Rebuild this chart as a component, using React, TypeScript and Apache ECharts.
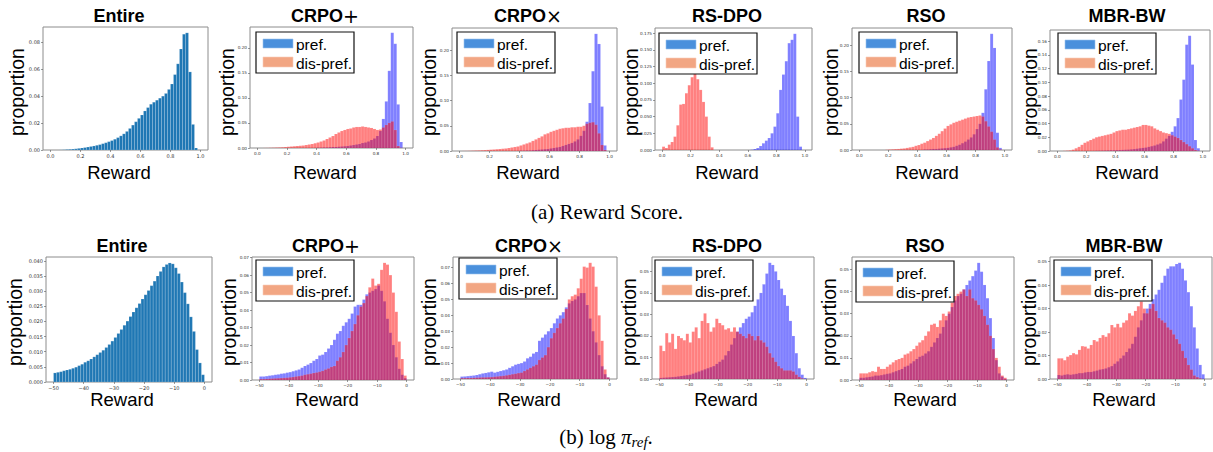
import React, { useEffect, useRef } from "react";
import * as echarts from "echarts";

// ---------- categories / ticks ----------
const TITLES = ["Entire", "CRPO+", "CRPO×", "RS-DPO", "RSO", "MBR-BW"];
const LEGEND_LABELS = ["pref.", "dis-pref."];
const REWARD_X_TICKS = [0, 0.2, 0.4, 0.6, 0.8, 1.0];
const LOGREF_X_TICKS = [-50, -40, -30, -20, -10, 0];
const REWARD_Y_TICKS = [
  [0, 0.02, 0.04, 0.06, 0.08],
  [0, 0.05, 0.1, 0.15, 0.2],
  [0, 0.05, 0.1, 0.15, 0.2],
  [0, 0.025, 0.05, 0.075, 0.1, 0.125, 0.15, 0.175],
  [0, 0.05, 0.1, 0.15, 0.2],
  [0, 0.02, 0.04, 0.06, 0.08, 0.1, 0.12, 0.14, 0.16],
];
const REWARD_Y_DEC = [2, 2, 2, 3, 2, 2];
const LOGREF_Y_TICKS = [
  [0, 0.005, 0.01, 0.015, 0.02, 0.025, 0.03, 0.035, 0.04],
  [0, 0.01, 0.02, 0.03, 0.04, 0.05, 0.06, 0.07],
  [0, 0.01, 0.02, 0.03, 0.04, 0.05, 0.06, 0.07],
  [0, 0.01, 0.02, 0.03, 0.04, 0.05],
  [0, 0.01, 0.02, 0.03, 0.04, 0.05],
  [0, 0.01, 0.02, 0.03, 0.04, 0.05],
];
const LOGREF_Y_DEC = [3, 2, 2, 2, 2, 2];

// bin starts (50 bins each)
const REWARD_BINS = [
  0, 0.02, 0.04, 0.06, 0.08, 0.1, 0.12, 0.14, 0.16, 0.18,
  0.2, 0.22, 0.24, 0.26, 0.28, 0.3, 0.32, 0.34, 0.36, 0.38,
  0.4, 0.42, 0.44, 0.46, 0.48, 0.5, 0.52, 0.54, 0.56, 0.58,
  0.6, 0.62, 0.64, 0.66, 0.68, 0.7, 0.72, 0.74, 0.76, 0.78,
  0.8, 0.82, 0.84, 0.86, 0.88, 0.9, 0.92, 0.94, 0.96, 0.98,
];
const REWARD_BIN_W = 0.02;
const LOGREF_BINS = [
  -50, -49, -48, -47, -46, -45, -44, -43, -42, -41,
  -40, -39, -38, -37, -36, -35, -34, -33, -32, -31,
  -30, -29, -28, -27, -26, -25, -24, -23, -22, -21,
  -20, -19, -18, -17, -16, -15, -14, -13, -12, -11,
  -10, -9, -8, -7, -6, -5, -4, -3, -2, -1,
];
const LOGREF_BIN_W = 1;

// ---------- (a) Reward score ----------
const rewardEntire = [
  0, 0, 0, 0.0001, 0.0002, 0.0004, 0.0005, 0.0007, 0.0009, 0.0012,
  0.0015, 0.0018, 0.0022, 0.0026, 0.003, 0.0035, 0.004, 0.0047, 0.0054, 0.0062,
  0.007, 0.008, 0.0092, 0.0105, 0.012, 0.0138, 0.016, 0.0185, 0.021, 0.0235,
  0.026, 0.029, 0.0315, 0.034, 0.0355, 0.037, 0.0385, 0.04, 0.042, 0.045,
  0.049, 0.056, 0.064, 0.075, 0.086, 0.087, 0.058, 0.019, 0.0015, 0,
];
const rewardCrpoPlusPref = [
  0, 0, 0, 0, 0, 0, 0, 0, 0, 0,
  0, 0, 0, 0, 0, 0, 0, 0, 0, 0,
  0.0005, 0.0005, 0.001, 0.001, 0.0015, 0.002, 0.002, 0.0025, 0.003, 0.0035,
  0.004, 0.005, 0.006, 0.007, 0.008, 0.01, 0.011, 0.013, 0.016, 0.019,
  0.024, 0.034, 0.058, 0.093, 0.154, 0.23, 0.208, 0.087, 0.012, 0,
];
const rewardCrpoPlusDis = [
  0, 0, 0.0002, 0.0003, 0.0005, 0.0007, 0.001, 0.0012, 0.0015, 0.002,
  0.0025, 0.003, 0.0035, 0.004, 0.0045, 0.005, 0.006, 0.007, 0.008, 0.0095,
  0.011, 0.013, 0.015, 0.018, 0.021, 0.024, 0.028, 0.031, 0.034, 0.036,
  0.038, 0.039, 0.041, 0.042, 0.042, 0.043, 0.042, 0.041, 0.04, 0.038,
  0.036, 0.037, 0.041, 0.046, 0.05, 0.053, 0.036, 0.004, 0.0005, 0,
];
const rewardCrpoTimesPref = [
  0, 0, 0, 0, 0, 0, 0, 0, 0, 0,
  0, 0, 0, 0, 0, 0, 0, 0, 0, 0,
  0.0005, 0.0005, 0.001, 0.001, 0.0015, 0.002, 0.0025, 0.003, 0.0035, 0.004,
  0.005, 0.006, 0.007, 0.008, 0.01, 0.012, 0.014, 0.016, 0.019, 0.023,
  0.03, 0.04, 0.058, 0.095, 0.158, 0.232, 0.212, 0.088, 0.011, 0,
];
const rewardCrpoTimesDis = [
  0, 0.0002, 0.0003, 0.0005, 0.0007, 0.001, 0.0012, 0.0015, 0.0018, 0.0022,
  0.0026, 0.003, 0.0035, 0.004, 0.0045, 0.005, 0.006, 0.007, 0.008, 0.009,
  0.011, 0.013, 0.015, 0.017, 0.02, 0.023, 0.026, 0.029, 0.033, 0.035,
  0.038, 0.04, 0.042, 0.044, 0.045, 0.046, 0.046, 0.047, 0.047, 0.048,
  0.048, 0.05, 0.054, 0.056, 0.057, 0.052, 0.035, 0.012, 0.002, 0,
];
const rewardRsdpoPref = [
  0, 0, 0, 0, 0, 0, 0, 0, 0, 0,
  0, 0, 0, 0, 0, 0, 0, 0, 0, 0,
  0, 0, 0, 0, 0, 0, 0, 0, 0, 0,
  0, 0.0005, 0.0015, 0.003, 0.006, 0.01, 0.014, 0.018, 0.025, 0.035,
  0.055, 0.09, 0.113, 0.133, 0.16, 0.165, 0.174, 0.05, 0.005, 0,
];
const rewardRsdpoDis = [
  0.005, 0.003, 0.008, 0.012, 0.02, 0.037, 0.068, 0.069, 0.085, 0.097,
  0.109, 0.114, 0.106, 0.09, 0.072, 0.05, 0.02, 0.004, 0, 0,
  0, 0, 0, 0, 0, 0, 0, 0, 0, 0,
  0, 0, 0, 0, 0, 0, 0, 0, 0, 0,
  0, 0, 0, 0, 0, 0, 0, 0, 0, 0,
];
const rewardRsoPref = [
  0, 0, 0, 0, 0, 0, 0, 0, 0, 0,
  0, 0, 0, 0, 0, 0, 0, 0, 0, 0,
  0, 0, 0.001, 0.001, 0.0015, 0.002, 0.002, 0.0025, 0.003, 0.0035,
  0.004, 0.005, 0.006, 0.008, 0.01, 0.013, 0.016, 0.02, 0.024, 0.03,
  0.04, 0.05, 0.071, 0.116, 0.17, 0.222, 0.195, 0.033, 0.004, 0,
];
const rewardRsoDis = [
  0, 0, 0, 0, 0, 0, 0, 0, 0, 0.0005,
  0.001, 0.0013, 0.0017, 0.002, 0.0025, 0.003, 0.004, 0.005, 0.006, 0.008,
  0.0095, 0.012, 0.014, 0.017, 0.02, 0.023, 0.027, 0.031, 0.036, 0.041,
  0.046, 0.049, 0.052, 0.054, 0.056, 0.058, 0.06, 0.062, 0.063, 0.064,
  0.065, 0.066, 0.064, 0.055, 0.045, 0.035, 0.02, 0.005, 0.001, 0,
];
const rewardMbrPref = [
  0, 0, 0, 0, 0, 0, 0, 0, 0, 0,
  0, 0, 0, 0.0003, 0.0004, 0.0005, 0.0006, 0.0008, 0.001, 0.001,
  0.0012, 0.0014, 0.0016, 0.0018, 0.002, 0.0024, 0.0028, 0.0033, 0.004, 0.0045,
  0.005, 0.006, 0.007, 0.008, 0.0095, 0.011, 0.014, 0.018, 0.022, 0.028,
  0.036, 0.048, 0.075, 0.104, 0.155, 0.168, 0.126, 0.016, 0.004, 0,
];
const rewardMbrDis = [
  0, 0, 0.0003, 0.0006, 0.001, 0.002, 0.004, 0.006, 0.009, 0.012,
  0.014, 0.016, 0.018, 0.02, 0.021, 0.022, 0.023, 0.024, 0.025, 0.027,
  0.029, 0.03, 0.031, 0.031, 0.032, 0.033, 0.034, 0.035, 0.036, 0.038,
  0.038, 0.037, 0.036, 0.033, 0.031, 0.029, 0.027, 0.026, 0.025, 0.023,
  0.021, 0.019, 0.016, 0.013, 0.01, 0.007, 0.004, 0.0015, 0.0005, 0,
];

// ---------- (b) log pi_ref ----------
const logrefEntire = [
  0.003, 0.0032, 0.0034, 0.0037, 0.004, 0.0042, 0.0045, 0.0049, 0.0054, 0.0059,
  0.0065, 0.007, 0.0076, 0.0083, 0.009, 0.0097, 0.0105, 0.0114, 0.0124, 0.0135,
  0.0147, 0.016, 0.0173, 0.0187, 0.0201, 0.0216, 0.0231, 0.0245, 0.0259, 0.0274,
  0.0288, 0.0302, 0.0318, 0.0333, 0.035, 0.0365, 0.038, 0.0388, 0.0393, 0.039,
  0.0377, 0.0358, 0.033, 0.0295, 0.0258, 0.0215, 0.0167, 0.0107, 0.0063, 0.0024,
];
const logrefCrpoPlusPref = [
  0.002, 0.002, 0.0022, 0.0025, 0.0027, 0.003, 0.0032, 0.0036, 0.0038, 0.0042,
  0.0045, 0.005, 0.0055, 0.006, 0.007, 0.008, 0.0088, 0.0097, 0.011, 0.012,
  0.014, 0.0145, 0.016, 0.018, 0.02, 0.023, 0.0265, 0.028, 0.031, 0.033,
  0.035, 0.038, 0.042, 0.043, 0.043, 0.046, 0.049, 0.05, 0.051, 0.052,
  0.054, 0.051, 0.045, 0.035, 0.027, 0.02, 0.013, 0.0064, 0.003, 0.001,
];
const logrefCrpoPlusDis = [
  0.0005, 0.0005, 0.0006, 0.0007, 0.0008, 0.0009, 0.001, 0.0011, 0.0012, 0.0013,
  0.0015, 0.0017, 0.002, 0.0022, 0.0025, 0.003, 0.0033, 0.0036, 0.004, 0.0043,
  0.0047, 0.0052, 0.006, 0.0066, 0.0075, 0.008, 0.011, 0.013, 0.016, 0.02,
  0.024, 0.028, 0.032, 0.037, 0.042, 0.044, 0.048, 0.053, 0.058, 0.054,
  0.055, 0.063, 0.067, 0.066, 0.06, 0.05, 0.039, 0.022, 0.012, 0.0025,
];
const logrefCrpoTimesPref = [
  0.0015, 0.0016, 0.0018, 0.002, 0.0022, 0.0025, 0.003, 0.0035, 0.0038, 0.0042,
  0.0046, 0.004, 0.0045, 0.005, 0.0055, 0.006, 0.007, 0.008, 0.009, 0.0095,
  0.01, 0.011, 0.013, 0.014, 0.016, 0.017, 0.024, 0.026, 0.028, 0.03,
  0.032, 0.035, 0.038, 0.04, 0.042, 0.045, 0.0475, 0.049, 0.05, 0.052,
  0.054, 0.054, 0.0465, 0.038, 0.03, 0.023, 0.015, 0.008, 0.003, 0.001,
];
const logrefCrpoTimesDis = [
  0.0005, 0.0005, 0.0006, 0.0006, 0.0007, 0.0008, 0.0009, 0.001, 0.001, 0.0011,
  0.0012, 0.0014, 0.0016, 0.0018, 0.002, 0.0023, 0.0026, 0.003, 0.0033, 0.0037,
  0.004, 0.005, 0.006, 0.007, 0.008, 0.009, 0.012, 0.0135, 0.015, 0.02,
  0.0256, 0.029, 0.032, 0.035, 0.038, 0.044, 0.05, 0.052, 0.053, 0.057,
  0.063, 0.0706, 0.07, 0.073, 0.0706, 0.058, 0.04, 0.024, 0.006, 0.001,
];
const logrefRsdpoPref = [
  0.0005, 0.0006, 0.0007, 0.0008, 0.0009, 0.001, 0.0012, 0.0014, 0.0016, 0.0018,
  0.002, 0.0025, 0.003, 0.0035, 0.004, 0.0045, 0.005, 0.0055, 0.006, 0.007,
  0.008, 0.009, 0.011, 0.013, 0.016, 0.019, 0.022, 0.024, 0.026, 0.028,
  0.029, 0.031, 0.034, 0.037, 0.04, 0.044, 0.049, 0.054, 0.053, 0.05,
  0.046, 0.042, 0.039, 0.034, 0.027, 0.02, 0.012, 0.005, 0.002, 0.0005,
];
const logrefRsdpoDis = [
  0.0155, 0.013, 0.0213, 0.017, 0.021, 0.014, 0.02, 0.019, 0.018, 0.021,
  0.017, 0.022, 0.024, 0.019, 0.027, 0.0305, 0.026, 0.022, 0.024, 0.028,
  0.026, 0.025, 0.023, 0.0236, 0.022, 0.024, 0.022, 0.021, 0.02, 0.019,
  0.021, 0.02, 0.018, 0.02, 0.018, 0.017, 0.015, 0.012, 0.01, 0.008,
  0.006, 0.005, 0.004, 0.004, 0.004, 0.0035, 0.002, 0.001, 0.0003, 0,
];
const logrefRsoPref = [
  0.001, 0.001, 0.0012, 0.0014, 0.0016, 0.002, 0.002, 0.0022, 0.0025, 0.0028,
  0.003, 0.0035, 0.004, 0.0045, 0.005, 0.006, 0.0065, 0.0075, 0.0085, 0.0095,
  0.0105, 0.011, 0.012, 0.013, 0.015, 0.017, 0.019, 0.021, 0.024, 0.027,
  0.03, 0.033, 0.036, 0.038, 0.039, 0.041, 0.043, 0.045, 0.047, 0.0495,
  0.053, 0.049, 0.043, 0.037, 0.028, 0.019, 0.009, 0.003, 0.0015, 0.0005,
];
const logrefRsoDis = [
  0.003, 0.003, 0.003, 0.0035, 0.004, 0.0037, 0.006, 0.005, 0.005, 0.006,
  0.007, 0.008, 0.009, 0.0095, 0.01, 0.0115, 0.012, 0.013, 0.014, 0.0155,
  0.017, 0.018, 0.02, 0.022, 0.025, 0.0255, 0.024, 0.027, 0.03, 0.029,
  0.031, 0.035, 0.038, 0.039, 0.04, 0.041, 0.038, 0.041, 0.037, 0.036,
  0.034, 0.032, 0.029, 0.025, 0.02, 0.014, 0.01, 0.006, 0.002, 0.001,
];
const logrefMbrPref = [
  0.0017, 0.0015, 0.0018, 0.002, 0.0018, 0.002, 0.0022, 0.0025, 0.0025, 0.0028,
  0.003, 0.003, 0.0033, 0.0036, 0.004, 0.0042, 0.0045, 0.005, 0.0055, 0.0065,
  0.0075, 0.0088, 0.01, 0.0115, 0.013, 0.015, 0.018, 0.022, 0.025, 0.028,
  0.03, 0.032, 0.034, 0.036, 0.038, 0.041, 0.044, 0.047, 0.048, 0.048,
  0.049, 0.0495, 0.047, 0.042, 0.037, 0.031, 0.022, 0.013, 0.006, 0.002,
];
const logrefMbrDis = [
  0.0088, 0.0088, 0.008, 0.0095, 0.0102, 0.011, 0.0105, 0.0124, 0.014, 0.0138,
  0.013, 0.0145, 0.0166, 0.016, 0.0175, 0.0187, 0.018, 0.0195, 0.023, 0.022,
  0.0235, 0.022, 0.024, 0.025, 0.028, 0.027, 0.029, 0.031, 0.033, 0.03,
  0.028, 0.03, 0.032, 0.029, 0.026, 0.025, 0.024, 0.022, 0.021, 0.019,
  0.017, 0.015, 0.012, 0.009, 0.006, 0.004, 0.0015, 0.0008, 0.0003, 0,
];

const REWARD_SERIES = [
  [rewardEntire],
  [rewardCrpoPlusPref, rewardCrpoPlusDis],
  [rewardCrpoTimesPref, rewardCrpoTimesDis],
  [rewardRsdpoPref, rewardRsdpoDis],
  [rewardRsoPref, rewardRsoDis],
  [rewardMbrPref, rewardMbrDis],
];
const LOGREF_SERIES = [
  [logrefEntire],
  [logrefCrpoPlusPref, logrefCrpoPlusDis],
  [logrefCrpoTimesPref, logrefCrpoTimesDis],
  [logrefRsdpoPref, logrefRsdpoDis],
  [logrefRsoPref, logrefRsoDis],
  [logrefMbrPref, logrefMbrDis],
];

// ---------- layout ----------
const GRIDS = [
  [[43, 27, 208, 150], [250, 27, 413, 148], [452, 28, 617, 151], [655, 28, 812, 150], [852, 28, 1012, 150], [1050, 30, 1210, 151]],
  [[46, 257, 212, 382], [252, 257, 414, 380], [453, 257, 617, 379], [652, 257, 814, 379], [852, 257, 1014, 380], [1050, 257, 1212, 379]],
];
const TITLE_POS = [
  { y: 16, xs: [119, 325, 528, 727, 926, 1127] },
  { y: 246, xs: [122, 326, 529, 727, 925, 1124] },
];
const PROP_POS = [
  { y: 92, xs: [17, 227, 429, 631, 831, 1030] },
  { y: 322, xs: [15, 229, 429, 629, 829, 1029] },
];
const REWARD_POS = [
  { y: 172, xs: [119, 325, 528, 727, 927, 1127] },
  { y: 399, xs: [122, 327, 529, 726, 925, 1124] },
];
const LEGEND_POS = [
  [null, [256, 32], [457, 32], [659, 33], [859, 32], [1058, 33]],
  [null, [256, 260], [459, 258], [655, 260], [856, 261], [1054, 260]],
];

const SANS = "'Liberation Sans', Arial, Helvetica, sans-serif";
const SERIF = "'Liberation Serif', 'Times New Roman', serif";
const TICKFONT = "'DejaVu Sans', sans-serif";
const C_ENTIRE = "#1f77b4";
const C_PREF = "rgba(0,0,255,0.5)";
const C_DIS = "rgba(255,0,0,0.5)";
const C_LEG_PREF = "#4a90dc";
const C_LEG_DIS = "#f2a683";

function histSeries(idx: number, bins: number[], vals: number[], w: number, fill: string, stroke: string) {
  return {
    type: "custom",
    xAxisIndex: idx,
    yAxisIndex: idx,
    clip: true,
    encode: { x: 0, y: 1 },
    data: bins.map((b, k) => [b, vals[k]]),
    renderItem: (_p: any, api: any) => {
      const x = api.value(0);
      const y = api.value(1);
      if (!y) return { type: "group", children: [] };
      const a = api.coord([x, 0]);
      const b = api.coord([x + w, y]);
      return {
        type: "rect",
        shape: { x: a[0], y: b[1], width: b[0] - a[0], height: a[1] - b[1] },
        style: { fill, stroke, lineWidth: 0.35 },
      };
    },
  };
}

function buildOption() {
  const grid: any[] = [];
  const xAxis: any[] = [];
  const yAxis: any[] = [];
  const series: any[] = [];
  const graphic: any[] = [];

  for (let row = 0; row < 2; row++) {
    const seriesSet = row === 0 ? REWARD_SERIES : LOGREF_SERIES;
    const bins = row === 0 ? REWARD_BINS : LOGREF_BINS;
    const w = row === 0 ? REWARD_BIN_W : LOGREF_BIN_W;
    const xTicks = row === 0 ? REWARD_X_TICKS : LOGREF_X_TICKS;
    const yTicksAll = row === 0 ? REWARD_Y_TICKS : LOGREF_Y_TICKS;
    const yDec = row === 0 ? REWARD_Y_DEC : LOGREF_Y_DEC;
    const xMin = row === 0 ? -0.05 : -52.5;
    const xMax = row === 0 ? 1.05 : 2.5;

    for (let p = 0; p < 6; p++) {
      const idx = row * 6 + p;
      const [l, t, r, b] = GRIDS[row][p];
      grid.push({
        left: l, top: t, width: r - l, height: b - t,
        show: true, borderColor: "#8c8c8c", borderWidth: 1, backgroundColor: "transparent",
      });
      const sets = seriesSet[p];
      let maxV = 0;
      sets.forEach((s) => s.forEach((v) => { if (v > maxV) maxV = v; }));
      const tickFs = p === 0 ? 5 : 4.2;
      xAxis.push({
        type: "value", gridIndex: idx, min: xMin, max: xMax,
        axisLine: { show: false, onZero: false }, splitLine: { show: false },
        axisTick: { show: true, length: 2, lineStyle: { color: "#555", width: 0.6 }, customValues: xTicks },
        axisLabel: {
          show: true, customValues: xTicks, fontSize: tickFs, color: "#333", margin: 3, fontFamily: TICKFONT,
          formatter: (v: number) => row === 0 ? v.toFixed(1) : (v < 0 ? "\u2212" + Math.abs(v) : String(v)),
        },
      });
      const yt = yTicksAll[p];
      yAxis.push({
        type: "value", gridIndex: idx, min: 0, max: maxV * 1.05,
        axisLine: { show: false, onZero: false }, splitLine: { show: false },
        axisTick: { show: true, length: 2, lineStyle: { color: "#555", width: 0.6 }, customValues: yt },
        axisLabel: {
          show: true, customValues: yt, fontSize: tickFs, color: "#333", margin: 3, fontFamily: TICKFONT,
          formatter: (v: number) => v.toFixed(yDec[p]),
        },
      });
      if (sets.length === 1) {
        series.push(histSeries(idx, bins, sets[0], w, C_ENTIRE, "rgba(255,255,255,0.45)"));
      } else {
        series.push(histSeries(idx, bins, sets[0], w, C_PREF, "rgba(255,255,255,0.25)"));
        series.push(histSeries(idx, bins, sets[1], w, C_DIS, "rgba(255,255,255,0.25)"));
      }

      // title
      const title = TITLES[p];
      const m = title.match(/^(.*?)([+×])$/);
      graphic.push({
        type: "text", x: TITLE_POS[row].xs[p], y: TITLE_POS[row].y,
        style: {
          text: m ? `{b|${m[1]}}{m|${m[2]}}` : `{b|${title}}`,
          rich: {
            b: { fontFamily: SANS, fontSize: 18, fontWeight: "bold", fill: "#000" },
            m: { fontFamily: "'DejaVu Sans', sans-serif", fontSize: 19, fontWeight: "normal", fill: "#000" },
          },
          align: "center", verticalAlign: "middle", textAlign: "center", textVerticalAlign: "middle",
        },
      });
      // y label
      graphic.push({
        type: "text", x: PROP_POS[row].xs[p], y: PROP_POS[row].y, rotation: Math.PI / 2,
        style: {
          text: "proportion", fontFamily: SANS, fontSize: 19.5, fill: "#000",
          align: "center", verticalAlign: "middle", textAlign: "center", textVerticalAlign: "middle",
        },
      });
      // x label
      graphic.push({
        type: "text", x: REWARD_POS[row].xs[p], y: REWARD_POS[row].y,
        style: {
          text: "Reward", fontFamily: SANS, fontSize: 18.5, fill: "#000",
          align: "center", verticalAlign: "middle", textAlign: "center", textVerticalAlign: "middle",
        },
      });
      // legend
      const lp = LEGEND_POS[row][p];
      if (lp) {
        const [lx, ly] = lp as number[];
        graphic.push({
          type: "rect", shape: { x: lx, y: ly, width: 98, height: 41 },
          style: { fill: "#fff", stroke: "#111", lineWidth: 1.2 }, z: 100,
        });
        graphic.push({
          type: "rect", shape: { x: lx + 7, y: ly + 7, width: 30, height: 9 },
          style: { fill: C_LEG_PREF, stroke: "#9cc3ee", lineWidth: 0.6 }, z: 101,
        });
        graphic.push({
          type: "rect", shape: { x: lx + 7, y: ly + 25, width: 30, height: 10 },
          style: { fill: C_LEG_DIS, stroke: "#f8cdb8", lineWidth: 0.6 }, z: 101,
        });
        graphic.push({
          type: "text", x: lx + 40, y: ly + 12, z: 101,
          style: {
            text: LEGEND_LABELS[0], fontFamily: SANS, fontSize: 15.5, fill: "#000",
            align: "left", verticalAlign: "middle", textAlign: "left", textVerticalAlign: "middle",
          },
        });
        graphic.push({
          type: "text", x: lx + 40, y: ly + 31, z: 101,
          style: {
            text: LEGEND_LABELS[1], fontFamily: SANS, fontSize: 15.5, fill: "#000",
            align: "left", verticalAlign: "middle", textAlign: "left", textVerticalAlign: "middle",
          },
        });
      }
    }
  }

  // captions
  graphic.push({
    type: "text", x: 607, y: 212,
    style: {
      text: "(a) Reward Score.", fontFamily: SERIF, fontSize: 21, fill: "#000",
      align: "center", verticalAlign: "middle", textAlign: "center", textVerticalAlign: "middle",
    },
  });
  graphic.push({
    type: "text", x: 606, y: 437,
    style: {
      text: "{n|(b) log }{i|π}{s|ref}{n|.}",
      rich: {
        n: { fontFamily: SERIF, fontSize: 21, lineHeight: 24, fill: "#000" },
        i: { fontFamily: SERIF, fontSize: 21, fontStyle: "italic", lineHeight: 24, fill: "#000" },
        s: { fontFamily: SERIF, fontSize: 15, fontStyle: "italic", lineHeight: 14, verticalAlign: "bottom", fill: "#000" },
      },
      align: "center", verticalAlign: "middle", textAlign: "center", textVerticalAlign: "middle",
    },
  });

  return { animation: false, backgroundColor: "#fff", grid, xAxis, yAxis, series, graphic: { elements: graphic } };
}

export default function App() {
  const ref = useRef<HTMLDivElement>(null);
  useEffect(() => {
    if (!ref.current) return;
    const chart = echarts.init(ref.current, null, { renderer: "svg" });
    chart.setOption(buildOption() as any);
    return () => chart.dispose();
  }, []);
  return (
    <div
      ref={ref}
      style={{ position: "fixed", left: 0, top: 0, width: 1213, height: 452, background: "#fff" }}
    />
  );
}
